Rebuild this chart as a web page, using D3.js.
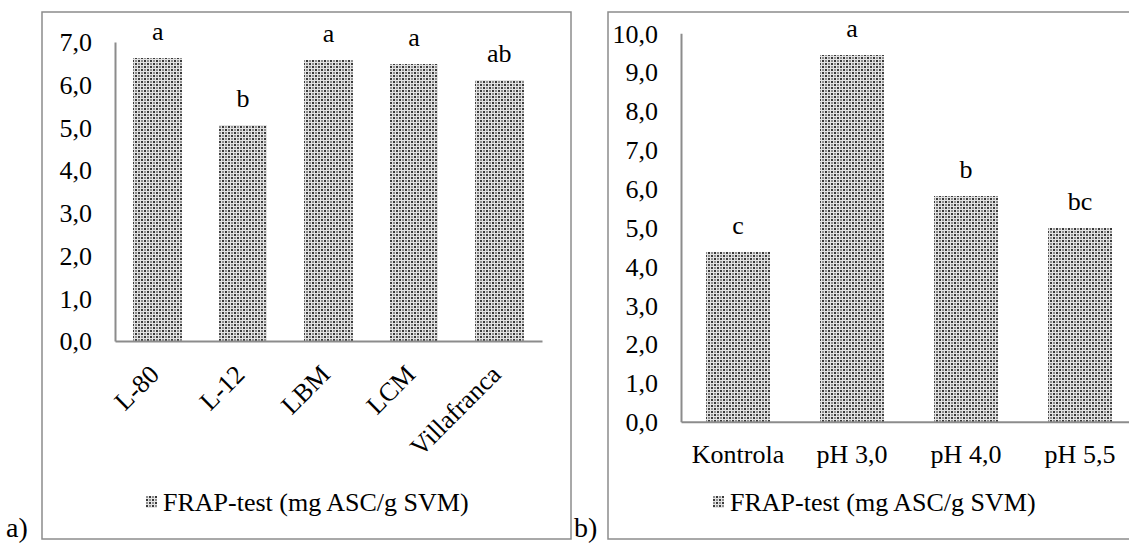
<!DOCTYPE html>
<html>
<head>
<meta charset="utf-8">
<script src="https://cdn.jsdelivr.net/npm/d3@7"></script>
<style>
  html, body { margin: 0; padding: 0; background: #fff; overflow: hidden; }
</style>
</head>
<body>
<svg id="chart" width="1129" height="545"></svg>
<script>
// Panel a) - cultivars
const categoriesA = ['L-80', 'L-12', 'LBM', 'LCM', 'Villafranca'];
const valuesA = [6.63, 5.06, 6.59, 6.49, 6.10];
const lettersA = ['a', 'b', 'a', 'a', 'ab'];
const ticksA = [0, 1, 2, 3, 4, 5, 6, 7];

// Panel b) - pH treatments
const categoriesB = ['Kontrola', 'pH 3,0', 'pH 4,0', 'pH 5,5'];
const valuesB = [4.38, 9.43, 5.82, 4.99];
const lettersB = ['c', 'a', 'b', 'bc'];
const ticksB = [0, 1, 2, 3, 4, 5, 6, 7, 8, 9, 10];

const legendLabel = 'FRAP-test (mg ASC/g SVM)';
const fmt = v => v.toFixed(1).replace('.', ',');

const svg = d3.select('#chart');
const lineColor = '#8c8c8c';
const fontSize = 26;
const serif = "'Liberation Serif', 'DejaVu Serif', serif";

// dotted fill like the Excel pattern
const defs = svg.append('defs');
const pat = defs.append('pattern')
  .attr('id', 'dots')
  .attr('patternUnits', 'userSpaceOnUse')
  .attr('width', 6)
  .attr('height', 6);
pat.append('rect').attr('width', 6).attr('height', 6).attr('fill', '#e4e4e4');
[[0, 0, '#3a3a3a'], [3, 3, '#3a3a3a'], [3, 0, '#8e8e8e'], [0, 3, '#8e8e8e']].forEach(([x, y, c]) => {
  pat.append('rect').attr('x', x).attr('y', y).attr('width', 2).attr('height', 2).attr('fill', c);
});

function txt(sel, size) {
  return sel.style('font-family', serif).style('font-size', (size || fontSize) + 'px').style('fill', '#000');
}

function drawPanel(opts) {
  const g = svg.append('g');

  // outer frame
  g.append('rect')
    .attr('x', opts.frame.x)
    .attr('y', opts.frame.y)
    .attr('width', opts.frame.w)
    .attr('height', opts.frame.h)
    .attr('fill', 'none')
    .attr('stroke', lineColor)
    .attr('stroke-width', 1.5);

  const x = d3.scaleBand()
    .domain(opts.categories)
    .range([opts.left, opts.right])
    .paddingInner(0.43)
    .paddingOuter(0.215);

  const y = d3.scaleLinear()
    .domain([0, opts.max])
    .range([opts.bottom, opts.top]);

  // bars
  g.selectAll('rect.bar')
    .data(opts.values)
    .join('rect')
    .attr('class', 'bar')
    .attr('x', (d, i) => x(opts.categories[i]))
    .attr('y', d => y(d))
    .attr('width', x.bandwidth())
    .attr('height', d => y(0) - y(d))
    .attr('fill', 'url(#dots)')
    .attr('shape-rendering', 'crispEdges');

  // significance letters
  g.selectAll('text.letter')
    .data(opts.letters)
    .join('text')
    .attr('class', 'letter')
    .attr('x', (d, i) => x(opts.categories[i]) + x.bandwidth() / 2)
    .attr('y', (d, i) => y(opts.values[i]) - 18)
    .attr('text-anchor', 'middle')
    .call(txt)
    .text(d => d);

  // y axis
  const yAxis = g.append('g')
    .attr('transform', `translate(${opts.left},0)`)
    .call(d3.axisLeft(y).tickValues(opts.ticks).tickFormat(fmt).tickSize(0).tickPadding(23));
  yAxis.select('.domain').attr('stroke', lineColor).attr('stroke-width', 2);
  yAxis.selectAll('text')
    .call(txt)
    .attr('dy', '0.34em');

  // x axis
  const xAxis = g.append('g')
    .attr('transform', `translate(0,${opts.bottom})`)
    .call(d3.axisBottom(x).tickSize(0).tickFormat(''));
  xAxis.select('.domain').attr('stroke', lineColor).attr('stroke-width', 2);

  // category labels
  g.selectAll('text.cat')
    .data(opts.categories)
    .join('text')
    .attr('class', 'cat')
    .call(txt)
    .each(function(d) {
      const t = d3.select(this);
      const cx = x(d) + x.bandwidth() / 2;
      if (opts.rotate) {
        t.attr('text-anchor', 'end')
          .attr('transform', `translate(${cx + 3},${opts.bottom + 35}) rotate(-45)`);
      } else {
        t.attr('text-anchor', 'middle')
          .attr('x', cx)
          .attr('y', opts.bottom + 41);
      }
    })
    .text(d => d);

  // legend
  const lg = g.append('g').attr('transform', `translate(${opts.legendX},511)`);
  lg.append('rect')
    .attr('x', 0)
    .attr('y', -15)
    .attr('width', 11)
    .attr('height', 12)
    .attr('fill', 'url(#dots)');
  lg.append('text')
    .attr('x', 17)
    .attr('y', 0)
    .call(txt)
    .text(legendLabel);

  // panel letter
  svg.append('text')
    .attr('x', opts.tagX)
    .attr('y', 537)
    .call(txt, 28)
    .text(opts.tag);
}

drawPanel({
  frame: { x: 42, y: 12, w: 529, h: 527 },
  categories: categoriesA, values: valuesA, letters: lettersA, ticks: ticksA,
  max: 7, left: 115, right: 542, top: 42, bottom: 341,
  rotate: true, legendX: 146, tag: 'a)', tagX: 6
});

drawPanel({
  frame: { x: 608, y: 12, w: 600, h: 527 },
  categories: categoriesB, values: valuesB, letters: lettersB, ticks: ticksB,
  max: 10, left: 681, right: 1137, top: 33.3, bottom: 421.7,
  rotate: false, legendX: 713, tag: 'b)', tagX: 574
});
</script>
</body>
</html>
